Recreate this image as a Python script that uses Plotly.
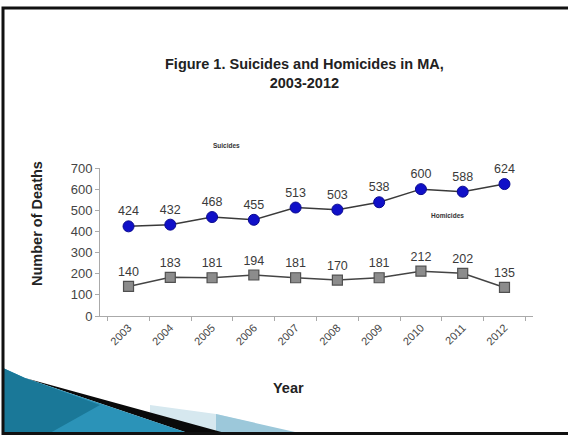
import plotly.graph_objects as go

years = ["2003", "2004", "2005", "2006", "2007", "2008", "2009", "2010", "2011", "2012"]
suicides = [424, 432, 468, 455, 513, 503, 538, 600, 588, 624]
homicides = [140, 183, 181, 194, 181, 170, 181, 212, 202, 135]

W, H = 568, 435
L, R, T, B = 100, 533, 168, 316

def px(x):
    return (x - L) / (R - L)

def py(y):
    return 1 - (y - T) / (B - T)

FONT = "Liberation Sans, Arial, sans-serif"

fig = go.Figure()
fig.add_trace(go.Scatter(
    x=years, y=suicides, mode="lines+markers+text", name="Suicides",
    text=[str(v) for v in suicides], textposition="top center",
    textfont=dict(size=12.5, color="#3a3a3a", family=FONT),
    line=dict(color="#3a3a3a", width=1.5),
    marker=dict(symbol="circle", size=11, color="#1010c8", line=dict(color="#0a0a90", width=1)),
    cliponaxis=False,
))
fig.add_trace(go.Scatter(
    x=years, y=homicides, mode="lines+markers+text", name="Homicides",
    text=[str(v) for v in homicides], textposition="top center",
    textfont=dict(size=12.5, color="#3a3a3a", family=FONT),
    line=dict(color="#444444", width=1.5),
    marker=dict(symbol="square", size=10, color="#8c8c8c", line=dict(color="#505050", width=1.2)),
    cliponaxis=False,
))

shapes = []
def poly(points, color, opacity=1.0):
    d = "M " + " L ".join(f"{px(x):.5f},{py(y):.5f}" for x, y in points) + " Z"
    shapes.append(dict(type="path", xref="paper", yref="paper", path=d,
                       fillcolor=color, line=dict(width=0), opacity=opacity, layer="below"))

# decorative slide corner
poly([(150, 405), (216, 414), (295, 433), (150, 433)], "#d6e8ef")
poly([(216, 414), (295, 432), (295, 433), (216, 433)], "#9cc8da")
poly([(25, 378), (225, 433), (188, 433)], "#0a0a0a")
poly([(3, 368), (25, 378), (188, 433), (3, 433)], "#2b93b8")
poly([(3, 368), (25, 378), (100, 405), (50, 433), (3, 433)], "#1a7898")

shapes.append(dict(type="rect", xref="paper", yref="paper",
                   x0=px(3), x1=px(575), y0=py(433.5), y1=py(8),
                   line=dict(color="#111111", width=3), fillcolor="rgba(0,0,0,0)", layer="above"))

annotations = [
    dict(text="<b>Figure 1. Suicides and Homicides in MA,<br>2003-2012</b>", x=px(304), y=py(73),
         xref="paper", yref="paper", showarrow=False, xanchor="center", yanchor="middle",
         font=dict(size=14.5, color="#222222", family=FONT)),
    dict(text="<b>Number of Deaths</b>", x=px(37), y=py(224), xref="paper", yref="paper",
         showarrow=False, textangle=-90, xanchor="center", yanchor="middle",
         font=dict(size=14.5, color="#222222", family=FONT)),
    dict(text="<b>Year</b>", x=px(288), y=py(388), xref="paper", yref="paper",
         showarrow=False, xanchor="center", yanchor="middle",
         font=dict(size=14.5, color="#222222", family=FONT)),
    dict(text="<b>Suicides</b>", x=px(226), y=py(145), xref="paper", yref="paper",
         showarrow=False, xanchor="center", yanchor="middle",
         font=dict(size=6.5, color="#333333", family=FONT)),
    dict(text="<b>Homicides</b>", x=px(447), y=py(215), xref="paper", yref="paper",
         showarrow=False, xanchor="center", yanchor="middle",
         font=dict(size=6.5, color="#333333", family=FONT)),
]

fig.update_layout(
    width=W, height=H,
    margin=dict(l=L, r=W - R, t=T, b=H - B, autoexpand=False),
    paper_bgcolor="white", plot_bgcolor="white",
    showlegend=False,
    shapes=shapes, annotations=annotations,
    xaxis=dict(type="category", tickangle=-45, showline=True, linecolor="#aaaaaa",
               ticks="outside", tickson="boundaries", ticklen=4, tickcolor="#aaaaaa",
               showgrid=False, zeroline=False,
               tickfont=dict(size=11, color="#444444", family=FONT)),
    yaxis=dict(range=[0, 700], dtick=100, showline=True, linecolor="#aaaaaa",
               ticks="outside", ticklen=4, tickcolor="#aaaaaa",
               showgrid=False, zeroline=False,
               tickfont=dict(size=13, color="#444444", family=FONT)),
)

fig.write_html("out.html", config={"displayModeBar": False},
               post_script="document.body.style.margin='0';document.body.style.overflow='hidden';")
